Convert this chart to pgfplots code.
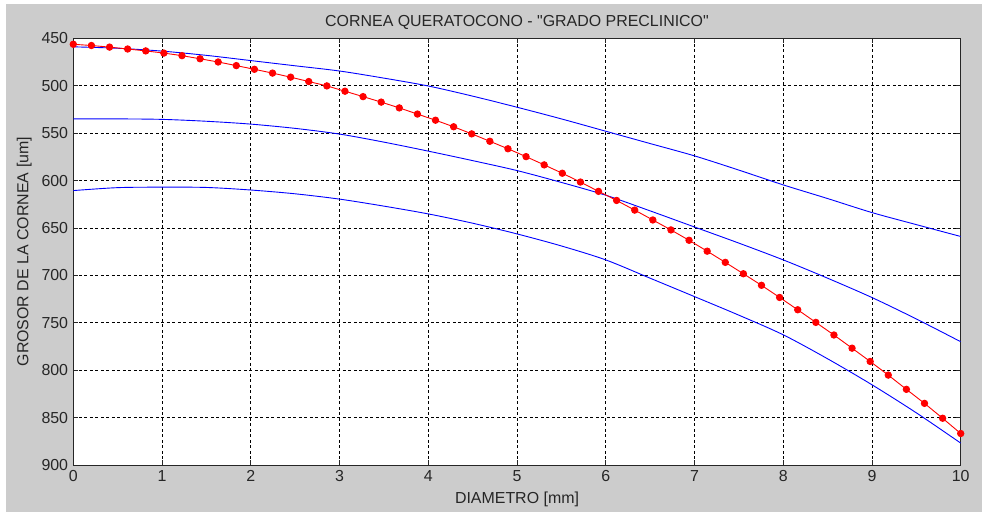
\documentclass[border=0pt]{standalone}
\usepackage{pgfplots}
\pgfplotsset{compat=1.18}
\usepackage{fontspec}
\setmainfont{Liberation Sans}
\definecolor{figgrey}{RGB}{204,204,204}
\definecolor{mblue}{RGB}{0,0,255}
\definecolor{mred}{RGB}{255,0,0}
\begin{document}
\begin{tikzpicture}[x=1bp,y=1bp]
\path[use as bounding box, fill=white] (0,0) rectangle (982,515);
\fill[figgrey] (6,3) rectangle (982,511);
\begin{axis}[
  at={(73.3bp,50bp)}, anchor=south west,
  scale only axis, width=887.4bp, height=426.7bp,
  xmin=0, xmax=10, ymin=450, ymax=900,
  y dir=reverse,
  xtick={0,1,...,10}, ytick={450,500,...,900},
  axis background/.style={fill=white},
  axis line style={black!85, line width=0.8bp},
  tick style={black!85, line width=0.6bp},
  tick align=inside, major tick length=5bp,
  grid=major,
  major grid style={black, line width=0.7bp, dash pattern=on 3bp off 2.5bp},
  /pgf/number format/assume math mode=true,
  ticklabel style={font=\fontsize{16}{19}\selectfont, text=black!85},
  yticklabel style={inner sep=0pt, xshift=-5bp},
  xticklabel style={inner sep=0pt, yshift=-5bp},
  every axis title/.style={at={(axis description cs:0.5,1)}, anchor=base, yshift=11.8bp, font=\fontsize{16}{19}\selectfont, text=black!85},
  every axis x label/.style={at={(axis description cs:0.5,0)}, anchor=base, yshift=-38bp, font=\fontsize{16}{19}\selectfont, text=black!85},
  every axis y label/.style={at={(axis description cs:0,0.5)}, rotate=90, anchor=base, yshift=45bp, font=\fontsize{16}{19}\selectfont, text=black!85},
  title={CORNEA QUERATOCONO - \textquotedbl GRADO PRECLINICO\textquotedbl},
  xlabel={DIAMETRO [mm]},
  ylabel={GROSOR DE LA CORNEA [um]},
]
\addplot[mblue, line width=0.9bp, smooth, no marks] coordinates {
(0,459) (0.5,460.5) (1,463.5) (1.5,468) (2,473.5) (2.5,479) (3,484.5) (3.5,492) (4,500.3) (4.5,511) (5,522.7) (5.5,535) (6,548) (6.5,561) (7,574) (7.5,589) (8,604.6) (8.5,619) (9,633.8) (9.5,646.5) (10,659)
};
\addplot[mblue, line width=0.9bp, smooth, no marks] coordinates {
(0,535) (0.5,535) (1,535.5) (1.5,537.5) (2,540.5) (2.5,545) (3,551) (3.5,559.5) (4,569) (4.5,579) (5,589.5) (5.5,602) (6,615.5) (6.5,632) (7,649) (7.5,666) (8,683.7) (8.5,703) (9,723.4) (9.5,746) (10,770)
};
\addplot[mblue, line width=0.9bp, smooth, no marks] coordinates {
(0,610.6) (0.5,607.5) (1,607) (1.5,607.3) (2,610) (2.5,614) (3,619.6) (3.5,627) (4,635.2) (4.5,645) (5,656.3) (5.5,669) (6,683.7) (6.5,703) (7,722.4) (7.5,742) (8,762.7) (8.5,788) (9,815.4) (9.5,845) (10,876.9)
};
\addplot[mred, line width=0.9bp, mark=*, mark size=3.2bp, mark options={fill=mred, draw=mred}] coordinates {
(0,456.3) (0.2041,457.6) (0.4082,459.3) (0.6122,461.3) (0.8163,463.3) (1.0204,465.6) (1.2245,468.3) (1.4286,471.6) (1.6327,475.0) (1.8367,478.8)
(2.0408,482.7) (2.2449,486.7) (2.4490,491.0) (2.6531,495.6) (2.8571,500.2) (3.0612,505.8) (3.2653,511.5) (3.4694,517.3) (3.6735,523.4) (3.8776,529.9)
(4.0816,536.4) (4.2857,543.3) (4.4898,550.8) (4.6939,558.6) (4.8980,566.5) (5.1020,574.8) (5.3061,583.5) (5.5102,592.3) (5.7143,601.6) (5.9184,611.4)
(6.1224,621.0) (6.3265,631.2) (6.5306,641.6) (6.7347,652.1) (6.9388,663.0) (7.1429,674.5) (7.3469,686.3) (7.5510,698.3) (7.7551,710.5) (7.9592,723.3)
(8.1633,736.3) (8.3673,749.6) (8.5714,762.9) (8.7755,776.8) (8.9796,790.8) (9.1837,805.2) (9.3878,820.2) (9.5918,835.0) (9.7959,850.7) (10,866.8)
};
\end{axis}
\end{tikzpicture}
\end{document}
